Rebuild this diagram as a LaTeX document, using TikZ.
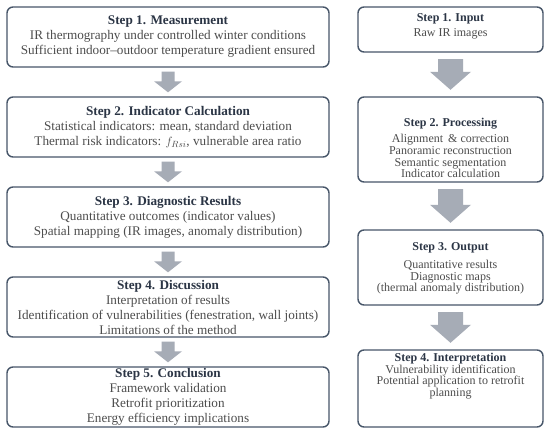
\documentclass[tikz,border=0pt]{standalone}
\usepackage{fontspec}
\setmainfont{Liberation Serif}
\usetikzlibrary{calc}
\definecolor{boxline}{HTML}{475669}
\definecolor{arrowfill}{HTML}{A6ACB6}
\definecolor{titlecol}{HTML}{2B3545}
\definecolor{bodycol}{HTML}{4D4D4D}
\tikzset{
  stepbox/.style={draw=boxline, line width=1.4pt, rounded corners=6pt, fill=white},
  leftbox/.style={stepbox, minimum width=322pt, minimum height=60pt, align=center,
    text=bodycol, inner sep=0pt, font=\fontsize{13.2}{15}\selectfont},
  rightbox/.style={stepbox, minimum width=185pt, inner sep=0pt},
  righttext/.style={align=center, text=bodycol, inner sep=0pt, anchor=north,
    font=\fontsize{12}{11.6}\selectfont},
}
\newcommand\ttl[1]{\textcolor{titlecol}{\textbf{#1}}}
% block arrow from box #1 down to box #2: shaft half width, head half width, head length, gap
\newcommand\blockarrow[6]{%
  \fill[arrowfill] let \p1=(#1.south), \p2=(#2.north) in
    (\x1-#3,\y1-#6) -- (\x1+#3,\y1-#6) -- (\x1+#3,\y2+#6+#5) -- (\x1+#4,\y2+#6+#5)
    -- (\x1,\y2+#6) -- (\x1-#4,\y2+#6+#5) -- (\x1-#3,\y2+#6+#5) -- cycle;}
\begin{document}
\begin{tikzpicture}[x=1pt,y=-1pt]
\fill[white] (0,0) rectangle (550,435);
\useasboundingbox (0,0) rectangle (550,435);

% left column
\node[leftbox] (l1) at (168,37) {\ttl{Step 1. Measurement}\\
  IR thermography under controlled winter conditions\\
  Sufficient indoor–outdoor temperature gradient ensured};
\node[leftbox] (l2) at (168,127) {\ttl{Step 2. Indicator Calculation}\\
  Statistical indicators: mean, standard deviation\\
  Thermal risk indicators: $f_{Rsi}$, vulnerable area ratio};
\node[leftbox] (l3) at (168,217) {\ttl{Step 3. Diagnostic Results}\\
  Quantitative outcomes (indicator values)\\
  Spatial mapping (IR images, anomaly distribution)};
\node[leftbox] (l4) at (168,307) {\ttl{Step 4. Discussion}\\
  Interpretation of results\\
  Identification of vulnerabilities (fenestration, wall joints)\\
  Limitations of the method};
\node[leftbox] (l5) at (168,397) {\ttl{Step 5. Conclusion}\\
  Framework validation\\
  Retrofit prioritization\\
  Energy efficiency implications};

\blockarrow{l1}{l2}{6.5pt}{14pt}{11pt}{4pt}
\blockarrow{l2}{l3}{6.5pt}{14pt}{11pt}{4pt}
\blockarrow{l3}{l4}{6.5pt}{14pt}{11pt}{4pt}
\blockarrow{l4}{l5}{6.5pt}{14pt}{11pt}{4pt}

% right column
\node[rightbox, minimum height=45pt] (r1) at (450.5,29.5) {};
\node[rightbox, minimum height=85pt] (r2) at (450.5,139.5) {};
\node[rightbox, minimum height=75pt] (r3) at (450.5,267.5) {};
\node[rightbox, minimum height=77pt] (r4) at (450.5,388.5) {};

\node[righttext] (t1) at ($(r1.north)+(0,7)$) {\ttl{Step 1. Input}\\[3.4pt]
  Raw IR images};
\node[righttext] (t2) at ($(r2.north)+(0,21.5)$) {\ttl{Step 2. Processing}\\[4.9pt]
  Alignment \,\&\ correction\\
  Panoramic reconstruction\\
  Semantic segmentation\\
  Indicator calculation};
\node[righttext] (t3) at ($(r3.north)+(0,13)$) {\ttl{Step 3. Output}\\[6.4pt]
  Quantitative results\\
  Diagnostic maps\\
  (thermal anomaly distribution)};
\node[righttext] (t4) at ($(r4.north)+(0,3.7)$) {\ttl{Step 4. Interpretation}\\
  Vulnerability identification\\
  Potential application to retrofit\\
  planning};

\blockarrow{r1}{r2}{12.5pt}{20.5pt}{18pt}{6.5pt}
\blockarrow{r2}{r3}{12.5pt}{20.5pt}{18pt}{6.5pt}
\blockarrow{r3}{r4}{12.5pt}{20.5pt}{18pt}{6.5pt}
\end{tikzpicture}
\end{document}
